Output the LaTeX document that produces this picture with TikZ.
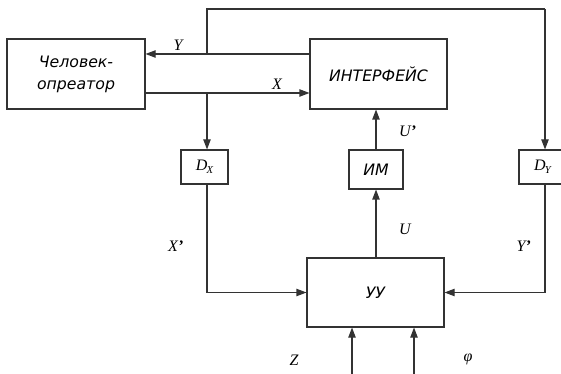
\documentclass[tikz,border=0pt]{standalone}
\usepackage{fontspec}
\setmainfont{Liberation Serif}
\newfontfamily\boxfont{DejaVu Sans}
\usetikzlibrary{arrows.meta,calc}
\newcommand\bxtext[1]{{\boxfont\itshape\fontsize{11.8}{16.5}\selectfont #1}}
\begin{document}
\begin{tikzpicture}[x=0.75pt,y=-0.75pt,
 line/.style={draw=black!80,line width=0.8pt},
 arr/.style={line,-{Triangle[length=7.5pt,width=5.5pt]}},
 blk/.style={draw=black!80,line width=0.8pt,rectangle,inner sep=0pt,
   font=\boxfont\itshape\fontsize{11.8}{16.5}\selectfont,align=center},
 small/.style={blk,minimum width=35.25pt,minimum height=25.5pt,
   font=\itshape\fontsize{12}{13}\selectfont},
 lbl/.style={font=\itshape\fontsize{12}{13}\selectfont,inner sep=0pt}]
\useasboundingbox (0,0) rectangle (561,374);
\clip (0,0) rectangle (561,374);
% blocks
\node[blk,minimum width=103.5pt,minimum height=52.5pt] (hum) at (76,74) {\bxtext{Человек-}\\\bxtext{опреатор}};
\node[blk,minimum width=102.75pt,minimum height=52.5pt] (iface) at (378.5,74) {\bxtext{ИНТЕРФЕЙС}};
\node[blk,minimum width=40.5pt,minimum height=29.25pt] (im) at (376,169.5) {\bxtext{ИМ}};
\node[small] (dx) at (204.5,167) {D\kern-0.5pt\raisebox{-2.5pt}{\fontsize{8}{9}\selectfont X}};
\node[small] (dy) at (542.5,167) {D\kern-0.5pt\raisebox{-2.5pt}{\fontsize{8}{9}\selectfont Y}};
\node[blk,minimum width=102.75pt,minimum height=51.75pt] (uu) at (375.5,292.5) {\bxtext{УУ}};
% helper coordinates
\coordinate (ya) at (207,54);
\coordinate (xa) at (207,93);
\coordinate (top) at (545,9);
\coordinate (z1) at (352,374);
\coordinate (z2) at (414,374);
% connectors
\draw[arr] (iface.west |- ya) -- (hum.east |- ya);
\draw[arr] (hum.east |- xa) -- (iface.west |- xa);
\draw[line] (ya) |- (top);
\draw[arr] (top) -- (top |- dy.north);
\draw[arr] (xa) -- (xa |- dx.north);
\draw[arr] (xa |- dx.south) |- (uu.west);
\draw[arr] (top |- dy.south) |- (uu.east);
\draw[arr] (uu.north -| im.center) -- (im.south);
\draw[arr] (im.north) -- (iface.south -| im.center);
\draw[arr] (z1) -- (z1 |- uu.south);
\draw[arr] (z2) -- (z2 |- uu.south);
% labels
\node[lbl] (ly) at (178,45) {Y};
\node[lbl] (lx) at (277,84) {X};
\node[lbl] (lup) at (408,131) {U\kern0.5pt\textup{\bfseries’}};
\node[lbl] (lu) at (405,229) {U};
\node[lbl] (lxp) at (176,246) {X\kern0.5pt\textup{\bfseries’}};
\node[lbl] (lyp) at (524,246) {Y\kern0.5pt\textup{\bfseries’}};
\node[lbl] (lz) at (294,360) {Z};
\node[lbl] (lphi) at (468,359) {φ};
\end{tikzpicture}
\end{document}
